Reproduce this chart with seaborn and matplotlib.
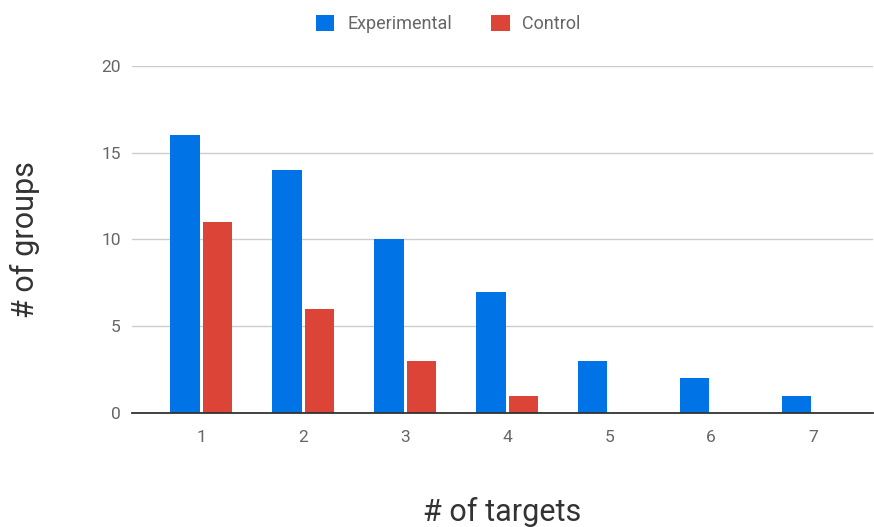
import pandas as pd
import seaborn as sns
import matplotlib.pyplot as plt

# number of targets vs number of groups, per condition
targets = ["1", "2", "3", "4", "5", "6", "7"]
experimental = [16, 14, 10, 7, 3, 2, 1]
control = [11, 6, 3, 1, 0, 0, 0]

df = pd.DataFrame({
    "targets": targets * 2,
    "groups": experimental + control,
    "condition": ["Experimental"] * len(targets) + ["Control"] * len(targets),
})

sns.set_style("white")
plt.rcParams["font.family"] = ["Roboto", "DejaVu Sans"]

fig = plt.figure(figsize=(8.74, 5.27), dpi=100)
ax = fig.add_axes([0.151, 0.2163, 0.848, 0.6585])

sns.barplot(data=df, x="targets", y="groups", hue="condition",
            palette={"Experimental": "#0073E6", "Control": "#DB4437"},
            saturation=1, width=0.64, gap=0.1, linewidth=0, ax=ax, zorder=3)

ax.set_ylim(0, 20)
ax.set_yticks([0, 5, 10, 15, 20])
ax.set_xlim(-0.68, 6.59)
ax.yaxis.grid(True, color="#cccccc", linewidth=1, zorder=0)
ax.set_axisbelow(True)
for s in ["top", "right", "left"]:
    ax.spines[s].set_visible(False)
ax.spines["bottom"].set_color("#333333")
ax.spines["bottom"].set_linewidth(1.3)
ax.spines["bottom"].set_zorder(4)
ax.tick_params(axis="both", length=0, labelsize=12.5, labelcolor="#666666")
ax.tick_params(axis="x", pad=12)
ax.tick_params(axis="y", pad=8)

ax.set_xlabel("# of targets", fontsize=22, color="#333333", labelpad=38)
ax.set_ylabel("# of groups", fontsize=22, color="#333333", labelpad=44)

ax.legend(loc="center", bbox_to_anchor=(0.427, 1.122), ncol=2, frameon=False,
          fontsize=13, labelcolor="#666666", handlelength=1, handleheight=1,
          handletextpad=0.7, columnspacing=2.2)

plt.savefig("out.png", dpi=100)
